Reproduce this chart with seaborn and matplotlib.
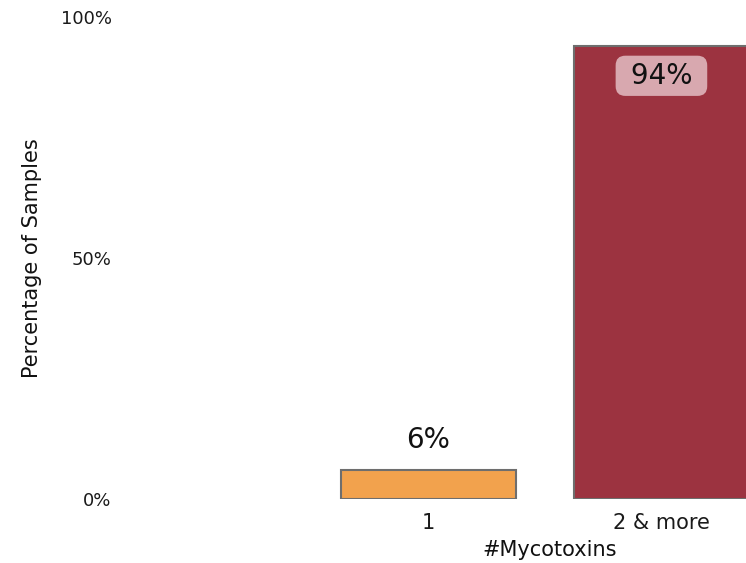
import matplotlib
matplotlib.use("Agg")
import matplotlib.pyplot as plt
import seaborn as sns
import pandas as pd

categories = ["1", "2 & more"]
percentages = [6, 94]
bar_colors = ["#F2A24D", "#9C3340"]
y_ticks = [0, 50, 100]
y_tick_labels = ["0%", "50%", "100%"]

df = pd.DataFrame({"count": categories, "pct": percentages})

sns.set_theme(style="white")
plt.rcParams["font.family"] = ["DejaVu Sans"]

fig = plt.figure(figsize=(7.46, 5.63), dpi=100)
ax = fig.add_axes([120 / 746, 64 / 563, 626 / 746, 482 / 563])

sns.barplot(data=df, x="count", y="pct", hue="count", order=categories,
            palette=bar_colors, legend=False, width=0.751,
            edgecolor="#6e6e6e", linewidth=1.5, ax=ax, saturation=1)

ax.set_xlim(-1.324, 1.363)
ax.set_ylim(0, 100)
ax.set_yticks(y_ticks)
ax.set_yticklabels(y_tick_labels)
ax.tick_params(axis="both", length=0, colors="#1a1a1a")
ax.tick_params(axis="y", pad=6, labelsize=13)
ax.tick_params(axis="x", pad=10, labelsize=15)
for s in ax.spines.values():
    s.set_visible(False)
ax.set_xlabel("")
ax.set_ylabel("")

# value labels
for i, v in enumerate(percentages):
    if v > 50:
        ax.text(i, v - 6.2, f" {v}% ", ha="center", va="center", fontsize=20,
                color="#111111",
                bbox=dict(boxstyle="round,pad=0.22,rounding_size=0.35",
                          facecolor="#D8A8AF", edgecolor="none"))
    else:
        ax.text(i, v + 6.2, f"{v}%", ha="center", va="center", fontsize=20,
                color="#111111")

fig.text(32 / 746, 1 - 258 / 563, "Percentage of Samples", rotation=90,
         ha="center", va="center", fontsize=15, color="#111111")
fig.text(550 / 746, 1 - 550 / 563, "#Mycotoxins", ha="center", va="center",
         fontsize=15, color="#111111")

fig.savefig("out.png", dpi=100)
